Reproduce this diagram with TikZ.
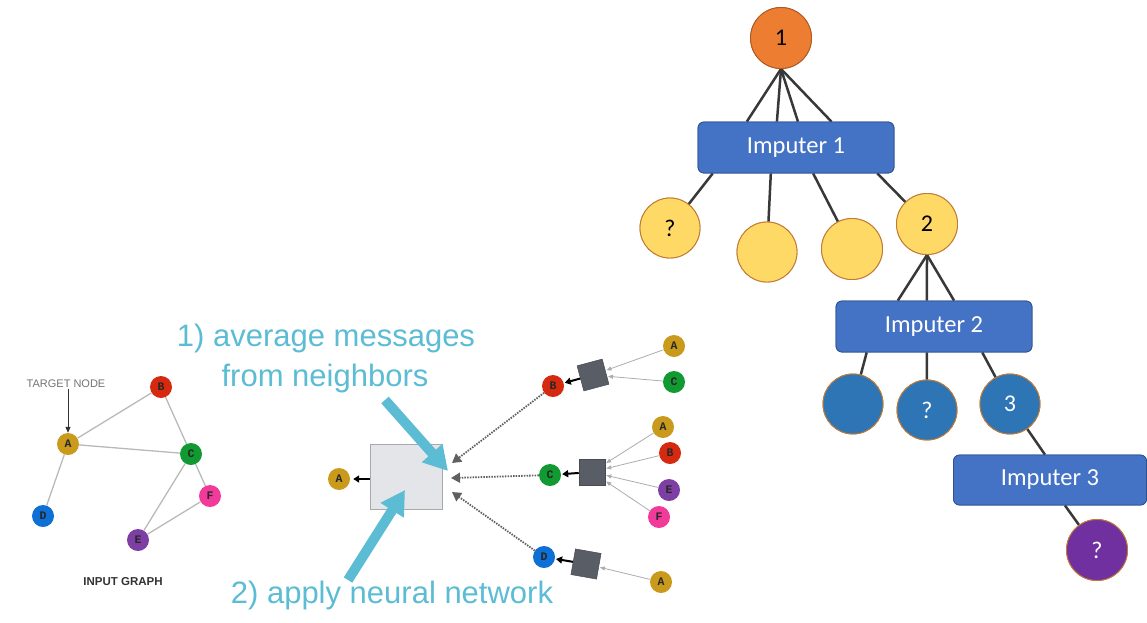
\documentclass[tikz,border=0pt]{standalone}
\usepackage{fontspec}
\setmainfont{Carlito}
\newfontfamily\helv{Liberation Sans}
\newfontfamily\monob{Liberation Mono}
\usetikzlibrary{arrows.meta,calc}
\definecolor{orangeN}{HTML}{ED7D31}
\definecolor{orangeB}{HTML}{AE5A21}
\definecolor{yellowN}{HTML}{FFD966}
\definecolor{yellowB}{HTML}{C07A34}
\definecolor{boxblue}{HTML}{4472C4}
\definecolor{boxborder}{HTML}{2F528F}
\definecolor{darkblue}{HTML}{2E75B6}
\definecolor{purpleN}{HTML}{7030A0}
\definecolor{treegray}{HTML}{383838}
\definecolor{cyanc}{HTML}{5BBCD4}
\definecolor{gboxfill}{HTML}{E3E5E9}
\definecolor{gboxdraw}{HTML}{A9A9AB}
\definecolor{sqgray}{HTML}{595E66}
\definecolor{cA}{HTML}{C99A1C}
\definecolor{cB}{HTML}{D62A10}
\definecolor{cC}{HTML}{129A32}
\definecolor{cD}{HTML}{0E6FD5}
\definecolor{cE}{HTML}{7E3FA5}
\definecolor{cF}{HTML}{F23A9A}
\begin{document}
\begin{tikzpicture}[x=1pt,y=-1pt,
  treecirc/.style={circle, minimum size=61pt, inner sep=0pt, line width=0.9pt, font=\fontsize{24}{28}\selectfont},
  imputer/.style={rectangle, rounded corners=6pt, fill=boxblue, draw=boxborder, line width=0.8pt, minimum width=196pt, minimum height=51pt, text=white, font=\fontsize{24.5}{28}\selectfont},
  treeline/.style={draw=treegray, line width=2.5pt},
  gnode/.style={circle, minimum size=22pt, inner sep=0pt, font=\monob\bfseries\fontsize{11.5}{11.5}\selectfont, text=black!85},
  gedge/.style={draw=gray!55, line width=1.3pt},
  dotarrow/.style={draw=gray!75!black, line width=1.8pt, dash pattern=on 1.5pt off 1.2pt, -{Triangle[length=9pt,width=10pt]}},
  thinarrow/.style={draw=gray!65, line width=0.8pt, -{Triangle[length=5pt,width=4pt]}, shorten >=1pt},
  blkarrow/.style={draw=black, line width=2pt, -{Triangle[length=6pt,width=7pt]}, shorten >=1pt},
  cyanarrow/.style={draw=cyanc, line width=10pt, -{Triangle[length=24pt,width=26pt]}},
  sqbox/.style={rectangle, fill=sqgray, draw=sqgray!80!black, line width=0.5pt, minimum size=26pt, inner sep=0pt},
  cyantext/.style={text=cyanc, font=\helv\fontsize{31}{36}\selectfont, anchor=base, inner sep=0pt}
]
\useasboundingbox (0,0) rectangle (1147,622);

% ---------------- tree ----------------
\node[treecirc, fill=orangeN, draw=orangeB] (n1) at (781,38) {1};
\node[imputer] (imp1) at (796,147.5) {Imputer 1};
\node[treecirc, fill=yellowN, draw=yellowB, minimum size=60pt] (y1) at (670,228) {?};
\node[treecirc, fill=yellowN, draw=yellowB, minimum size=60pt] (y2) at (767,252) {};
\node[treecirc, fill=yellowN, draw=yellowB] (y3) at (852,249) {};
\node[treecirc, fill=yellowN, draw=yellowB] (n2) at (927,224) {2};
\node[imputer] (imp2) at (934,326.5) {Imputer 2};
\node[treecirc, fill=darkblue, draw=yellowB, text=white, minimum size=60pt] (b1) at (853,404) {};
\node[treecirc, fill=darkblue, draw=yellowB, text=white, minimum size=60pt] (b2) at (927,410) {?};
\node[treecirc, fill=darkblue, draw=yellowB, text=white, minimum size=60pt] (b3) at (1010,404) {3};
\node[imputer, minimum width=193pt, minimum height=50pt] (imp3) at (1050,480) {Imputer 3};
\node[treecirc, fill=purpleN, draw=yellowB, text=white] (p1) at (1097,550) {?};

% tree connectors
\foreach \f in {0.25,0.403,0.51,0.68}
  \draw[treeline] (n1.south) -- ($(imp1.north west)!\f!(imp1.north east)$);
\draw[treeline] ($(imp1.south west)!0.077!(imp1.south east)$) -- (y1);
\draw[treeline] ($(imp1.south west)!0.372!(imp1.south east)$) -- (y2);
\draw[treeline] ($(imp1.south west)!0.587!(imp1.south east)$) -- (y3);
\draw[treeline] ($(imp1.south west)!0.913!(imp1.south east)$) -- (n2);
\foreach \f in {0.316,0.464,0.602}
  \draw[treeline] (n2.south) -- ($(imp2.north west)!\f!(imp2.north east)$);
\draw[treeline] ($(imp2.south west)!0.158!(imp2.south east)$) -- (b1);
\draw[treeline] ($(imp2.south west)!0.464!(imp2.south east)$) -- (b2);
\draw[treeline] ($(imp2.south west)!0.745!(imp2.south east)$) -- (b3);
\draw[treeline] (b3) -- ($(imp3.north west)!0.474!(imp3.north east)$);
\draw[treeline] ($(imp3.south west)!0.577!(imp3.south east)$) -- (p1);

% ---------------- input graph ----------------
\node[gnode, fill=cA] (gA) at (68,444) {A};
\node[gnode, fill=cB] (gB) at (161,387) {B};
\node[gnode, fill=cC] (gC) at (191,454) {C};
\node[gnode, fill=cD] (gD) at (43,516) {D};
\node[gnode, fill=cE] (gE) at (138,540) {E};
\node[gnode, fill=cF] (gF) at (210,496) {F};
\draw[gedge] (gA) -- (gB);
\draw[gedge] (gA) -- (gC);
\draw[gedge] (gA) -- (gD);
\draw[gedge] (gB) -- (gC);
\draw[gedge] (gC) -- (gE);
\draw[gedge] (gC) -- (gF);
\draw[gedge] (gE) -- (gF);
\node[text=gray!90!black, font=\helv\fontsize{11}{12}\selectfont, inner sep=1pt] (tgt) at (66,384) {TARGET NODE};
\draw[black!80, line width=1pt, -{Triangle[length=6pt,width=5pt]}] (tgt.south -| gA) -- (gA.north);
\node[text=black!80, font=\helv\bfseries\fontsize{11.5}{12}\selectfont] (ig) at (123,582) {INPUT GRAPH};

% ---------------- message passing ----------------
\node[gnode, fill=cA] (A0) at (339,479) {A};
\node[rectangle, fill=gboxfill, draw=gboxdraw, line width=1pt, minimum width=72pt, minimum height=65pt] (gbox) at (406,476.5) {};
\draw[blkarrow, shorten >=3pt] (gbox.west |- A0) -- (A0);

\node[gnode, fill=cB] (B1) at (553,386) {B};
\node[gnode, fill=cC] (C1) at (550,475) {C};
\node[gnode, fill=cD] (D1) at (544,557) {D};
\coordinate (tB) at (452,463);
\coordinate (tC) at (451,478);
\coordinate (tD) at (452,492);
\draw[dotarrow] (B1) -- (tB);
\draw[dotarrow] (C1) -- (tC);
\draw[dotarrow] (D1) -- (tD);

\node[sqbox, rotate=15] (S1) at (593,375) {};
\node[sqbox] (S2) at (592,472) {};
\node[sqbox, rotate=-10] (S3) at (586,564) {};
\draw[blkarrow] (S1) -- (B1);
\draw[blkarrow] (S2) -- (C1);
\draw[blkarrow] (S3) -- (D1);

\node[gnode, fill=cA] (R1A) at (674,346) {A};
\node[gnode, fill=cC] (R1C) at (674,382) {C};
\node[gnode, fill=cA] (R2A) at (663,427) {A};
\node[gnode, fill=cB] (R2B) at (670,453) {B};
\node[gnode, fill=cE] (R2E) at (669,490) {E};
\node[gnode, fill=cF] (R2F) at (659,517) {F};
\node[gnode, fill=cA] (R3A) at (661,582) {A};
\draw[thinarrow] (R1A) -- (S1);
\draw[thinarrow] (R1C) -- (S1);
\draw[thinarrow] (R2A) -- (S2);
\draw[thinarrow] (R2B) -- (S2);
\draw[thinarrow] (R2E) -- (S2);
\draw[thinarrow] (R2F) -- (S2);
\draw[thinarrow] (R3A) -- (S3);

% cyan annotations
\node[cyantext] (t1) at (326,346) {1) average messages};
\node[cyantext] (t2) at (325,386) {from neighbors};
\node[cyantext] (t3) at (392,603) {2) apply neural network};
\coordinate (c1s) at (385,400);
\coordinate (c1e) at (448,471);
\coordinate (c2s) at (348,580);
\coordinate (c2e) at (405,490);
\draw[cyanarrow] (c1s) -- (c1e);
\draw[cyanarrow] (c2s) -- (c2e);

% tree nodes redrawn on top of their connectors
\node[treecirc, fill=orangeN, draw=orangeB] at (n1) {1};
\node[imputer] at (imp1) {Imputer 1};
\node[treecirc, fill=yellowN, draw=yellowB, minimum size=60pt] at (y1) {?};
\node[treecirc, fill=yellowN, draw=yellowB, minimum size=60pt] at (y2) {};
\node[treecirc, fill=yellowN, draw=yellowB] at (y3) {};
\node[treecirc, fill=yellowN, draw=yellowB] at (n2) {2};
\node[imputer] at (imp2) {Imputer 2};
\node[treecirc, fill=darkblue, draw=yellowB, text=white, minimum size=60pt] at (b1) {};
\node[treecirc, fill=darkblue, draw=yellowB, text=white, minimum size=60pt] at (b2) {?};
\node[treecirc, fill=darkblue, draw=yellowB, text=white, minimum size=60pt] at (b3) {3};
\node[imputer, minimum width=193pt, minimum height=50pt] at (imp3) {Imputer 3};
\node[treecirc, fill=purpleN, draw=yellowB, text=white] at (p1) {?};
\end{tikzpicture}
\end{document}
